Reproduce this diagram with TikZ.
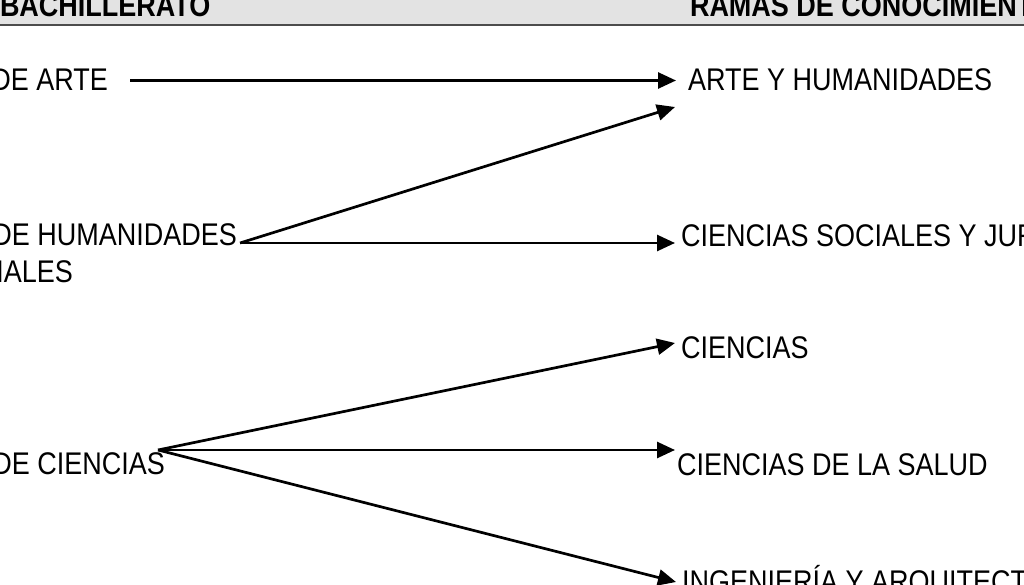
\documentclass[tikz,border=0pt]{standalone}
\usepackage{fontspec}
\setmainfont{Liberation Sans}
\usetikzlibrary{arrows.meta}
\newcommand{\stxt}[1]{\scalebox{1}[1.16]{#1}}
\tikzset{
  lbl/.style={inner sep=0pt, outer sep=0pt, font=\fontsize{27}{32}\selectfont},
  hdr/.style={lbl, font=\fontsize{27}{32}\selectfont\bfseries},
  conn/.style={line width=2.7pt, black, -{Triangle[length=18pt,width=16pt]}, shorten >=0pt},
}
\begin{document}
\begin{tikzpicture}[x=1pt,y=-1pt]
\useasboundingbox (0,0) rectangle (1024,585);
\clip (0,0) rectangle (1024,585);
\fill[white] (0,0) rectangle (1024,585);
% header band
\fill[gray!22] (0,0) rectangle (1024,25);
\draw[line width=2pt, black!70] (0,25) -- (1024,25);
\node[hdr, anchor=base west] (h1) at (0,17) {\stxt{BACHILLERATO}};
\node[hdr, anchor=base west] (h2) at (690,17) {\stxt{RAMAS DE CONOCIMIENTO}};
% left labels
\node[lbl, anchor=base east] (bart) at (108,91) {\stxt{DE ARTE}};
\node[lbl, anchor=base east] (bhum) at (237,245) {\stxt{DE HUMANIDADES}};
\node[lbl, anchor=base east] (bhum2) at (73,282) {\stxt{IALES}};
\node[lbl, anchor=base east] (bcie) at (165,474) {\stxt{DE CIENCIAS}};
% right labels
\node[lbl, anchor=base west] (rart) at (688,91) {\stxt{ARTE Y HUMANIDADES}};
\node[lbl, anchor=base west] (rsoc) at (681,246) {\stxt{CIENCIAS SOCIALES Y JURÍDICAS}};
\node[lbl, anchor=base west] (rcie) at (681,358) {\stxt{CIENCIAS}};
\node[lbl, anchor=base west] (rsal) at (677,475) {\stxt{CIENCIAS DE LA SALUD}};
\node[lbl, anchor=base west] (ring) at (682,592) {\stxt{INGENIERÍA Y ARQUITECTURA}};
% connector end points
\coordinate (sart) at (130,80.5);
\coordinate (shum) at (240,243);
\coordinate (scie) at (158,450);
\coordinate (tart) at (676,80.5);
\coordinate (tart2) at (675,107);
\coordinate (tsoc) at (675,243);
\coordinate (tcie) at (675,343);
\coordinate (tsal) at (675,450);
\coordinate (ting) at (676,582);
% connectors
\draw[conn] (sart) -- (tart);
\draw[conn] (shum) -- (tart2);
\draw[conn] (shum) -- (tsoc);
\draw[conn] (scie) -- (tcie);
\draw[conn] (scie) -- (tsal);
\draw[conn] (scie) -- (ting);
\end{tikzpicture}
\end{document}
